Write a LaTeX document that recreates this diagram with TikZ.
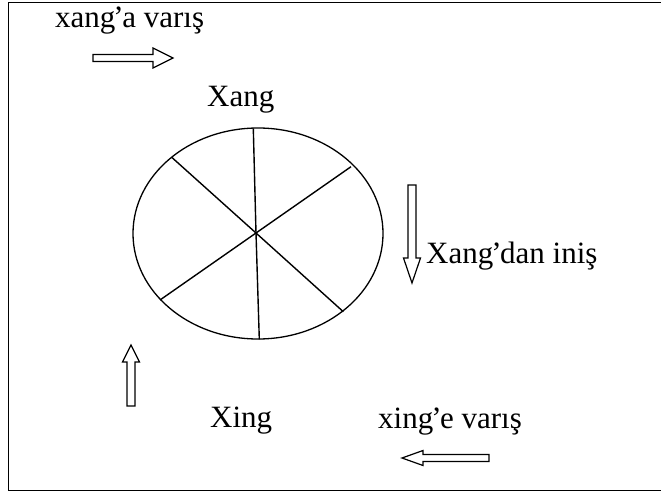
\documentclass[tikz,border=0pt]{standalone}
\usepackage{fontspec}
\setmainfont{Liberation Serif}
\usetikzlibrary{shapes.geometric}
\newcommand{\apos}{\kern-2pt’\kern-1.5pt}
\begin{document}
\begin{tikzpicture}[x=1pt,y=-1pt,
  lbl/.style={anchor=base west,inner sep=0pt,font=\fontsize{31}{33}\selectfont},
  blockarrow/.style={draw,line width=1.2pt,fill=white,line join=miter},
  spoke/.style={line width=1.4pt}]
\useasboundingbox (0,0) rectangle (661,492);
% frame
\draw[line width=1pt] (670,3) -- (8,3) -- (8,490) -- (670,490);
% wheel
\node[ellipse,draw,line width=1.3pt,minimum width=250pt,minimum height=211pt,inner sep=0pt] (wheel) at (258,233.5) {};
\coordinate (c) at (256,233);
\coordinate (s1) at (253.3,128.3);
\coordinate (s2) at (259.3,339.3);
\coordinate (s3) at (171.7,157.3);
\coordinate (s4) at (343.3,311.7);
\coordinate (s5) at (351,166.7);
\coordinate (s6) at (160,300);
\draw[spoke] (s1) -- (c) -- (s2);
\draw[spoke] (s3) -- (c) -- (s4);
\draw[spoke] (s5) -- (c) -- (s6);
% labels
\node[lbl] (t1) at (55,28) {xang\apos a varış};
\node[lbl] (t2) at (207,107) {Xang};
\node[lbl] (t3) at (426,263) {Xang\apos dan iniş};
\node[lbl] (t4) at (210,427) {Xing};
\node[lbl] (t5) at (378,428) {xing\apos e varış};
% arrows
\draw[blockarrow] (93,54.5) -- (153,54.5) -- (153,48) -- (173,58) -- (153,68) -- (153,61.5) -- (93,61.5) -- cycle;
\draw[blockarrow] (408,185) -- (416,185) -- (416,258) -- (420.5,258) -- (412,283) -- (403.5,258) -- (408,258) -- cycle;
\draw[blockarrow] (127,406) -- (127,362) -- (122.5,362) -- (131,345) -- (139.5,362) -- (135,362) -- (135,406) -- cycle;
\draw[blockarrow] (489,454.5) -- (423,454.5) -- (423,450.5) -- (402,458) -- (423,465.5) -- (423,461.5) -- (489,461.5) -- cycle;
\end{tikzpicture}
\end{document}
